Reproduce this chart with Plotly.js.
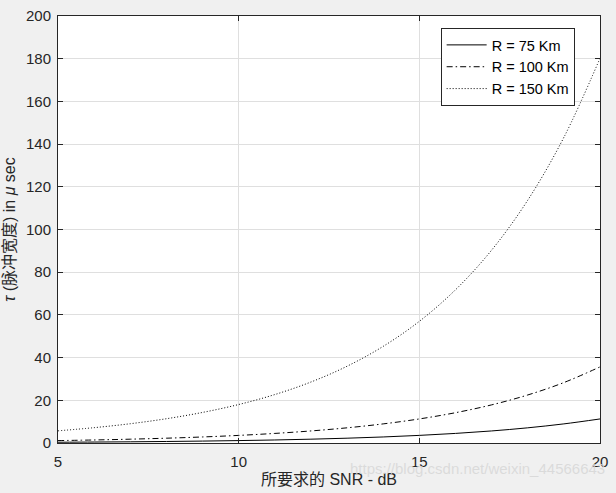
<!DOCTYPE html>
<html>
<head>
<meta charset="utf-8">
<script src="https://cdn.plot.ly/plotly-3.0.1.min.js"></script>
<style>html,body{margin:0;padding:0;background:#f0f0f0;}</style>
</head>
<body>
<div id="chart" style="width:616px;height:493px;"></div>
<script>
const snr = [5, 6, 7, 8, 9, 10, 11, 12, 13, 14, 15, 16, 17, 18, 19, 20];
const tau75 = [0.36, 0.45, 0.56, 0.71, 0.9, 1.13, 1.42, 1.79, 2.25, 2.83, 3.57, 4.49, 5.65, 7.11, 8.95, 11.27];
const tau100 = [1.13, 1.42, 1.79, 2.25, 2.83, 3.56, 4.49, 5.65, 7.11, 8.95, 11.27, 14.19, 17.86, 22.49, 28.31, 35.64];
const tau150 = [5.7, 7.18, 9.03, 11.37, 14.32, 18.02, 22.69, 28.56, 35.96, 45.27, 56.99, 71.75, 90.32, 113.71, 143.15, 180.2];
const names = ['R = 75 Km', 'R = 100 Km', 'R = 150 Km'];

const fontFam = '"Liberation Sans", Arial, "Noto Sans CJK SC", sans-serif';
const axisColor = '#262626';

const traces = [
  {x: snr, y: tau75, name: names[0], mode: 'lines', line: {color: '#000', width: 1, dash: 'solid', shape: 'spline'}},
  {x: snr, y: tau100, name: names[1], mode: 'lines', line: {color: '#000', width: 1, dash: '6px,3px,1.5px,3px', shape: 'spline'}},
  {x: snr, y: tau150, name: names[2], mode: 'lines', line: {color: '#000', width: 1, dash: '1px,2px', shape: 'spline'}}
];

const layout = {
  width: 616, height: 493,
  margin: {l: 58, r: 16, t: 16, b: 50},
  paper_bgcolor: '#f0f0f0',
  plot_bgcolor: '#ffffff',
  font: {family: fontFam, size: 13, color: axisColor},
  showlegend: true,
  legend: {
    x: 0.706, y: 0.972, xanchor: 'left', yanchor: 'top',
    bgcolor: '#ffffff', bordercolor: axisColor, borderwidth: 1,
    font: {family: fontFam, size: 14.5, color: '#000'},
    tracegroupgap: 0, itemwidth: 40
  },
  xaxis: {
    range: [5, 20], tickvals: [5, 10, 15, 20],
    showline: true, linecolor: axisColor, linewidth: 1, mirror: 'ticks',
    ticks: 'inside', ticklen: 5, tickcolor: axisColor, ticklabelstandoff: 5,
    showgrid: true, gridcolor: '#dfdfdf', gridwidth: 1, zeroline: false,
    tickfont: {size: 15, color: axisColor},
    title: {text: '所要求的 SNR - dB', font: {size: 16, color: axisColor}, standoff: 4}
  },
  yaxis: {
    range: [0, 200], tickvals: [0, 20, 40, 60, 80, 100, 120, 140, 160, 180, 200],
    showline: true, linecolor: axisColor, linewidth: 1, mirror: 'ticks',
    ticks: 'inside', ticklen: 5, tickcolor: axisColor, ticklabelstandoff: 3,
    showgrid: true, gridcolor: '#dfdfdf', gridwidth: 1, zeroline: false,
    tickfont: {size: 15, color: axisColor},
    title: {text: '<i>τ</i> (脉冲宽度) in <i>μ</i> sec', font: {size: 16, color: axisColor}, standoff: 6}
  },
  annotations: [{
    text: 'https://blog.csdn.net/weixin_44566643',
    xref: 'paper', yref: 'paper', x: 1.012, y: -0.035, xanchor: 'right', yanchor: 'top',
    showarrow: false, font: {family: fontFam, size: 15, color: 'rgba(215,215,215,0.85)'}
  }]
};

Plotly.newPlot('chart', traces, layout, {displayModeBar: false, staticPlot: true});
</script>
</body>
</html>
